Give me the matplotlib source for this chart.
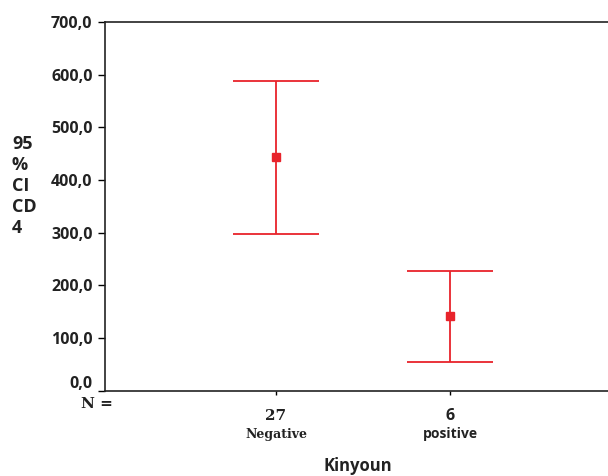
import matplotlib
matplotlib.use("Agg")
import matplotlib.pyplot as plt
from matplotlib.font_manager import FontProperties
import matplotlib.transforms as mtransforms
import numpy as np

categories = ["Negative", "positive"]
counts = [27, 6]
means = [443.5, 141.5]
upper = [588.0, 227.0]
lower = [297.5, 54.5]

yticks = [0, 100, 200, 300, 400, 500, 600, 700]
ytick_labels = ["0,0", "100,0", "200,0", "300,0", "400,0", "500,0", "600,0", "700,0"]

red = "#e8232b"
ink = "#222222"

def sans(size):
    return FontProperties(family="Open Sans", weight="bold", size=size)

def serif(size):
    return FontProperties(family="DejaVu Serif", weight="bold", size=size)

fig = plt.figure(figsize=(6.08, 4.76), dpi=100)
ax = fig.add_axes([105/608, 1-390.7/476, 1-105/608, (390.7-22)/476])

x = np.arange(1, len(categories)+1)
m = np.array(means)
yerr = [m - np.array(lower), np.array(upper) - m]
ax.errorbar(x, m, yerr=yerr, fmt="s", color=red, ecolor=red, ms=6,
            elinewidth=1.3, capsize=31, capthick=1.3, mec=red)

ax.set_ylim(0, 700)
ax.set_xlim(1 - 171/174, 2 + 158/174)
ax.set_yticks(yticks)
ax.set_yticklabels(ytick_labels)
for lab in ax.get_yticklabels():
    lab.set_fontproperties(sans(11.5))
    lab.set_color(ink)
ax.set_xticks(x)
ax.set_xticklabels([])
ax.tick_params(axis="y", direction="out", length=5, width=1, pad=4)
ax.tick_params(axis="x", direction="out", length=3, width=1)
ax.spines["right"].set_visible(False)
for s in ["left", "bottom", "top"]:
    ax.spines[s].set_linewidth(1.2)
    ax.spines[s].set_color(ink)

# lift the 0,0 label slightly like the original
zero_lab = ax.get_yticklabels()[0]
zero_lab.set_transform(zero_lab.get_transform() +
                       mtransforms.ScaledTranslation(0, 9/100, fig.dpi_scale_trans))

trans = ax.get_xaxis_transform()
for xi, c, n in zip(x, categories, counts):
    ax.text(xi, -0.068, str(n), transform=trans, ha="center", va="center",
            fontproperties=serif(11) if c == "Negative" else sans(11.5), color=ink)
    ax.text(xi, -0.118, c, transform=trans, ha="center", va="center",
            fontproperties=serif(9) if c == "Negative" else sans(10), color=ink)

fig.text(113/608, 1-404/476, "N =", ha="right", va="center",
         fontproperties=serif(11), color=ink)
fig.text(358/608, 1-466/476, "Kinyoun", ha="center", va="center",
         fontproperties=sans(12), color=ink)
fig.text(12/608, 1-186/476, "95\n%\nCI\nCD\n4", ha="left", va="center",
         fontproperties=sans(13), color=ink, linespacing=1.2)

fig.savefig("out.png", dpi=100)
